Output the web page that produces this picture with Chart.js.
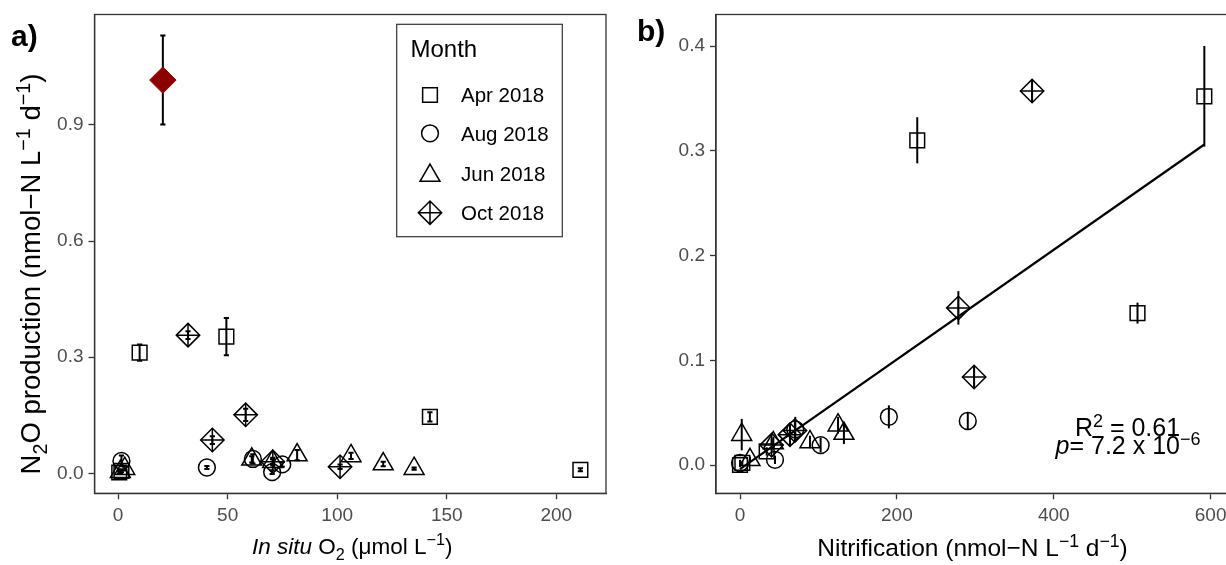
<!DOCTYPE html>
<html><head><meta charset="utf-8">
<script src="https://cdn.jsdelivr.net/npm/chart.js@4.4.1/dist/chart.umd.min.js"></script>
<style>
html,body{margin:0;padding:0;background:#fff;overflow:hidden;}
#wrap{position:relative;width:1226px;height:565px;overflow:hidden;}
#ca{position:absolute;left:0;top:0;}
#cb{position:absolute;left:610px;top:0;}
</style></head><body>
<div id="wrap"><canvas id="ca" width="613" height="565"></canvas><canvas id="cb" width="630" height="565"></canvas></div>
<script>
// ---------------- data ----------------
const months = ['Apr 2018', 'Aug 2018', 'Jun 2018', 'Oct 2018'];

// Panel a: in situ O2 (umol/L) vs N2O production (nmol-N/L/d)
const aprO2 = [0.5, 1.5, 9.8, 49.4, 142.3, 211.0];
const aprN2O_a = [0.002, 0.006, 0.312, 0.353, 0.146, 0.009];
const aprErr_a = [0.003, 0.003, 0.021, 0.048, 0.012, 0.004];
const augO2 = [1.5, 40.5, 61.5, 70.3, 74.9];
const augN2O_a = [0.032, 0.015, 0.037, 0.003, 0.023];
const augErr_a = [0.014, 0.004, 0.012, 0.005, 0.006];
const junO2 = [1.0, 3.0, 61.0, 70.5, 81.7, 106.3, 121.0, 135.1];
const junN2O_a = [0.004, 0.012, 0.036, 0.030, 0.047, 0.045, 0.024, 0.012];
const junErr_a = [0.003, 0.005, 0.008, 0.006, 0.013, 0.008, 0.006, 0.003];
const octO2 = [31.9, 43.0, 58.2, 70.6, 101.3];
const octN2O_a = [0.357, 0.086, 0.151, 0.030, 0.017];
const octErr_a = [0.010, 0.010, 0.016, 0.010, 0.006];
const outlierO2 = [20.4];
const outlierN2O = [1.016];
const outlierErr = [0.115];

// Panel b: nitrification (nmol-N/L/d) vs N2O production
const aprNit = [0, 3, 34, 226, 506.8, 592];
const aprN2O_b = [0.000, 0.002, 0.013, 0.310, 0.145, 0.352];
const aprErr_b = [0.002, 0.002, 0.004, 0.022, 0.010, 0.048];
const augNit = [0, 44.6, 70.5, 102.8, 189.8, 290.4];
const augN2O_b = [0.002, 0.005, 0.034, 0.019, 0.046, 0.042];
const augErr_b = [0.003, 0.004, 0.012, 0.007, 0.011, 0.008];
const junNit = [2.2, 12.7, 42.5, 89.2, 125, 132.5];
const junN2O_b = [0.029, 0.005, 0.021, 0.022, 0.038, 0.030];
const junErr_b = [0.015, 0.003, 0.006, 0.006, 0.008, 0.010];
const octNit = [40.3, 63.7, 70, 278.4, 298.5, 372.4];
const octN2O_b = [0.019, 0.029, 0.033, 0.150, 0.084, 0.357];
const octErr_b = [0.006, 0.010, 0.010, 0.016, 0.010, 0.010];
// linear fit endpoints
const fitX = [0, 592];
const fitY = [-0.004, 0.306];

// ticks
const xTicksA = [0, 50, 100, 150, 200];
const yTicksA = [0, 0.3, 0.6, 0.9];
const xTicksB = [0, 200, 400, 600];
const yTicksB = [0, 0.1, 0.2, 0.3, 0.4];

// ---------------- styling ----------------
const FAM = '"Liberation Sans", Arial, Helvetica, sans-serif';
const TICK_FONT = 19;
const R_SQ = 10.4, R_CI = 8.4, R_TR = 11.5, R_DI = 11.7;
const pts = (xs, ys) => xs.map((x, i) => ({x, y: ys[i]}));

function drawRich(ctx, segs, x, y, size, align) {
  const fontOf = s => (s.i ? 'italic ' : '') + ((s.sup || s.sub) ? size * 0.72 : size) + 'px ' + FAM;
  let w = 0;
  segs.forEach(s => { ctx.font = fontOf(s); w += ctx.measureText(s.t).width; });
  let cx = align === 'center' ? x - w / 2 : (align === 'right' ? x - w : x);
  ctx.textAlign = 'left'; ctx.textBaseline = 'alphabetic';
  segs.forEach(s => {
    ctx.font = fontOf(s);
    const dy = s.sup ? -size * 0.38 : (s.sub ? size * 0.25 : 0);
    ctx.fillText(s.t, cx, y + dy);
    cx += ctx.measureText(s.t).width;
  });
}

function sym(ctx, type, x, y) {
  ctx.beginPath();
  if (type === 'square') { const s = R_SQ * Math.SQRT1_2; ctx.rect(x - s, y - s, 2 * s, 2 * s); }
  else if (type === 'circle') { ctx.arc(x, y, R_CI, 0, 2 * Math.PI); }
  else if (type === 'triangle') {
    const r = R_TR;
    ctx.moveTo(x, y - r);
    ctx.lineTo(x + r * Math.sin(2 * Math.PI / 3), y - r * Math.cos(2 * Math.PI / 3));
    ctx.lineTo(x + r * Math.sin(4 * Math.PI / 3), y - r * Math.cos(4 * Math.PI / 3));
    ctx.closePath();
  } else {
    const r = R_DI;
    ctx.moveTo(x - r, y); ctx.lineTo(x, y - r); ctx.lineTo(x + r, y); ctx.lineTo(x, y + r); ctx.closePath();
    ctx.moveTo(x, y - r); ctx.lineTo(x, y + r); ctx.moveTo(x - r, y); ctx.lineTo(x + r, y);
  }
  ctx.stroke();
}

const errorBars = {
  id: 'errorBars',
  beforeDatasetsDraw(chart, args, opts) {
    const ctx = chart.ctx, xs = chart.scales.x, ys = chart.scales.y, cap = opts.cap || 0;
    ctx.save();
    ctx.strokeStyle = '#000'; ctx.lineWidth = 2; ctx.lineCap = 'butt';
    chart.data.datasets.forEach(ds => {
      if (!ds.err) return;
      ds.data.forEach((p, i) => {
        const e = ds.err[i];
        const x = xs.getPixelForValue(p.x);
        const y1 = ys.getPixelForValue(p.y - e), y2 = ys.getPixelForValue(p.y + e);
        ctx.beginPath();
        ctx.moveTo(x, y1); ctx.lineTo(x, y2);
        if (cap) { ctx.moveTo(x - cap, y1); ctx.lineTo(x + cap, y1); ctx.moveTo(x - cap, y2); ctx.lineTo(x + cap, y2); }
        ctx.stroke();
      });
    });
    ctx.restore();
  }
};

const frame = {
  id: 'frame',
  afterDraw(chart, args, opts) {
    const ctx = chart.ctx, a = chart.chartArea;
    ctx.save();
    ctx.strokeStyle = '#333'; ctx.lineWidth = 1.3;
    ctx.strokeRect(a.left, a.top, a.right - a.left, a.bottom - a.top);
    ctx.restore();
    if (opts.draw) opts.draw(chart, ctx);
  }
};

function scale(min, max, ticks, fmt, fitKey, fitVal) {
  return {
    type: 'linear', min, max,
    afterBuildTicks: s => { s.ticks = ticks.map(v => ({value: v})); },
    afterFit: s => {
      s[fitKey] = fitVal;
      s.paddingLeft = 0; s.paddingRight = 0; s.paddingTop = 0; s.paddingBottom = 0;
    },
    ticks: { color: '#4d4d4d', font: {family: FAM, size: TICK_FONT}, padding: 5, callback: fmt, autoSkip: false, maxRotation: 0 },
    grid: { display: true, drawOnChartArea: false, drawTicks: true, tickLength: 6, tickColor: '#333', tickWidth: 1.3 },
    border: { display: true, color: '#333', width: 1.3 }
  };
}

function sets(apr, aprE, aug, augE, jun, junE, oct, octE) {
  const base = { borderColor: '#000', backgroundColor: 'rgba(0,0,0,0)', borderWidth: 1.5, pointBorderWidth: 1.5, showLine: false };
  return [
    Object.assign({}, base, { label: months[0], data: apr, err: aprE, pointStyle: 'rect', pointRadius: R_SQ }),
    Object.assign({}, base, { label: months[1], data: aug, err: augE, pointStyle: 'circle', pointRadius: R_CI }),
    Object.assign({}, base, { label: months[2], data: jun, err: junE, pointStyle: 'triangle', pointRadius: R_TR }),
    Object.assign({}, base, { label: months[3], data: oct, err: octE, pointStyle: 'rectRot', pointRadius: R_DI }),
    Object.assign({}, base, { label: months[3] + ' +', data: oct, pointStyle: 'cross', pointRadius: R_DI })
  ];
}

const common = {
  responsive: false, animation: false, devicePixelRatio: 1,
  plugins: { legend: { display: false }, tooltip: { enabled: false } },
  events: []
};

// ---------------- panel a ----------------
const dsA = sets(pts(aprO2, aprN2O_a), aprErr_a, pts(augO2, augN2O_a), augErr_a,
                 pts(junO2, junN2O_a), junErr_a, pts(octO2, octN2O_a), octErr_a);
dsA.push({ label: 'Oct 2018 (outlier)', data: pts(outlierO2, outlierN2O), err: outlierErr, pointStyle: 'rectRot',
  pointRadius: 13.2, backgroundColor: '#8b0000', borderColor: '#8b0000', borderWidth: 1, showLine: false });

new Chart(document.getElementById('ca'), {
  type: 'scatter',
  data: { datasets: dsA },
  options: Object.assign({}, common, {
    layout: { autoPadding: false, padding: { left: 0, top: 14.5, right: 7, bottom: 0 } },
    scales: {
      x: scale(-10.8, 222.7, xTicksA, v => String(v), 'height', 71.7),
      y: scale(-0.0517, 1.1855, yTicksA, v => v.toFixed(1), 'width', 94.5)
    },
    plugins: Object.assign({}, common.plugins, {
      errorBars: { cap: 2.6 },
      frame: { draw: (chart, ctx) => {
        const a = chart.chartArea;
        ctx.save();
        ctx.fillStyle = '#000';
        // y title
        ctx.translate(40, 274); ctx.rotate(-Math.PI / 2);
        drawRich(ctx, [{t: 'N'}, {t: '2', sub: 1}, {t: 'O production (nmol\u2212N L'}, {t: '\u22121', sup: 1}, {t: ' d'}, {t: '\u22121', sup: 1}, {t: ')'}], 0, 0, 27.5, 'center');
        ctx.setTransform(1, 0, 0, 1, 0, 0);
        // x title
        drawRich(ctx, [{t: 'In situ', i: 1}, {t: ' O'}, {t: '2', sub: 1}, {t: ' (\u03bcmol L'}, {t: '\u22121', sup: 1}, {t: ')'}], (a.left + a.right) / 2 + 2, 554, 22.5, 'center');
        // panel tag
        ctx.font = 'bold 30px ' + FAM; ctx.textAlign = 'left'; ctx.textBaseline = 'alphabetic';
        ctx.fillText('a)', 11, 46);
        // legend
        ctx.fillStyle = '#fff'; ctx.fillRect(396.7, 24.3, 165.6, 212.4);
        ctx.strokeStyle = '#333'; ctx.lineWidth = 1.2; ctx.strokeRect(396.7, 24.3, 165.6, 212.4);
        ctx.fillStyle = '#000';
        ctx.font = '24px ' + FAM; ctx.fillText('Month', 410.5, 57.3);
        const types = ['square', 'circle', 'triangle', 'diamond'];
        const symY = [95, 133.3, 175.5, 212.7];
        const txtY = [101.7, 140.7, 180.7, 220];
        ctx.strokeStyle = '#000'; ctx.lineWidth = 1.5;
        ctx.font = '20.5px ' + FAM;
        types.forEach((t, i) => { sym(ctx, t, 430, symY[i]); ctx.fillText(months[i], 461, txtY[i]); });
        ctx.restore();
      } }
    })
  }),
  plugins: [errorBars, frame]
});

// ---------------- panel b ----------------
const dsB = sets(pts(aprNit, aprN2O_b), aprErr_b, pts(augNit, augN2O_b), augErr_b,
                 pts(junNit, junN2O_b), junErr_b, pts(octNit, octN2O_b), octErr_b);
dsB.push({ label: 'fit', data: pts(fitX, fitY), showLine: true, pointRadius: 0, borderColor: '#000', borderWidth: 2.2, fill: false });

const OFFB = 610;
new Chart(document.getElementById('cb'), {
  type: 'scatter',
  data: { datasets: dsB },
  options: Object.assign({}, common, {
    layout: { autoPadding: false, padding: { left: 0, top: 14.5, right: 9, bottom: 0 } },
    scales: {
      x: scale(-30.6, 626, xTicksB, v => String(v), 'height', 71.7),
      y: scale(-0.027, 0.4301, yTicksB, v => v.toFixed(1), 'width', 716 - OFFB)
    },
    plugins: Object.assign({}, common.plugins, {
      errorBars: { cap: 0 },
      frame: { draw: (chart, ctx) => {
        ctx.save();
        ctx.fillStyle = '#000';
        drawRich(ctx, [{t: 'Nitrification (nmol\u2212N L'}, {t: '\u22121', sup: 1}, {t: ' d'}, {t: '\u22121', sup: 1}, {t: ')'}], 972.5 - OFFB, 556, 24.5, 'center');
        drawRich(ctx, [{t: 'R'}, {t: '2', sup: 1}, {t: ' = 0.61'}], 1127.5 - OFFB, 436, 25, 'center');
        drawRich(ctx, [{t: 'p', i: 1}, {t: '= 7.2 x 10'}, {t: '\u22126', sup: 1}], 1128 - OFFB, 454, 25, 'center');
        ctx.font = 'bold 30px ' + FAM; ctx.textAlign = 'left'; ctx.textBaseline = 'alphabetic';
        ctx.fillText('b)', 637 - OFFB, 41);
        ctx.restore();
      } }
    })
  }),
  plugins: [errorBars, frame]
});
</script>
</body></html>
